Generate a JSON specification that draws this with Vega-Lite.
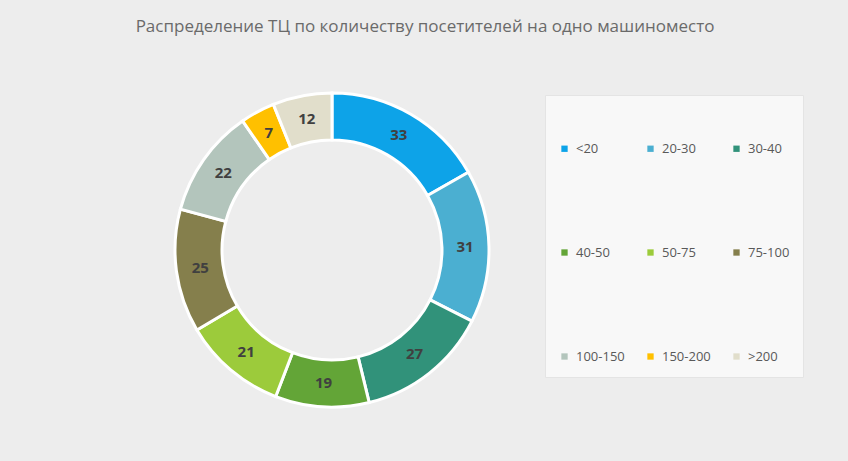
{
  "$schema": "https://vega.github.io/schema/vega-lite/v6.json",
  "width": 664,
  "height": 410,
  "autosize": {"type": "none"},
  "padding": {"left": 0, "top": 45, "right": 184, "bottom": 6},
  "background": "#EDEDED",
  "title": {
    "text": "Распределение ТЦ по количеству посетителей на одно машиноместо",
    "font": "Open Sans",
    "fontSize": 17,
    "fontWeight": 500,
    "color": "#6A6A6A",
    "anchor": "middle",
    "dx": 93,
    "offset": 9
  },
  "data": {
    "values": [
      {"idx": 1, "cat": "<20", "value": 33},
      {"idx": 2, "cat": "20-30", "value": 31},
      {"idx": 3, "cat": "30-40", "value": 27},
      {"idx": 4, "cat": "40-50", "value": 19},
      {"idx": 5, "cat": "50-75", "value": 21},
      {"idx": 6, "cat": "75-100", "value": 25},
      {"idx": 7, "cat": "100-150", "value": 22},
      {"idx": 8, "cat": "150-200", "value": 7},
      {"idx": 9, "cat": ">200", "value": 12}
    ]
  },
  "encoding": {
    "theta": {"field": "value", "type": "quantitative", "stack": true},
    "order": {"field": "idx", "type": "quantitative"}
  },
  "layer": [
    {
      "mark": {"type": "arc", "outerRadius": 157, "innerRadius": 110, "stroke": "#FFFFFF", "strokeWidth": 3},
      "encoding": {
        "color": {
          "field": "cat",
          "type": "nominal",
          "scale": {
            "domain": ["<20", "20-30", "30-40", "40-50", "50-75", "75-100", "100-150", "150-200", ">200"],
            "range": ["#0DA3E8", "#4BAFD1", "#31927A", "#63A537", "#9CCB3B", "#857F4C", "#B3C5BC", "#FFC000", "#E1DECB"]
          },
          "legend": {
            "orient": "none",
            "direction": "horizontal",
            "legendX": 545,
            "legendY": 50,
            "title": " ",
            "titleFontSize": 13,
            "titlePadding": 21,
            "columns": 3,
            "gridAlign": "all",
            "columnPadding": 19,
            "rowPadding": 90,
            "padding": 13,
            "fillColor": "#F8F8F8",
            "strokeColor": "#E4E4E4",
            "symbolType": "square",
            "symbolSize": 40,
            "symbolStrokeWidth": 0,
            "labelFont": "Open Sans",
            "labelFontSize": 13,
            "labelColor": "#595959",
            "labelOffset": 5
          }
        }
      }
    },
    {
      "mark": {"type": "text", "radius": 133, "font": "Open Sans", "fontSize": 15, "fontWeight": "bold", "fill": "#404040"},
      "encoding": {
        "detail": {"field": "cat", "type": "nominal"},
        "text": {"field": "value", "type": "quantitative"}
      }
    }
  ]
}
